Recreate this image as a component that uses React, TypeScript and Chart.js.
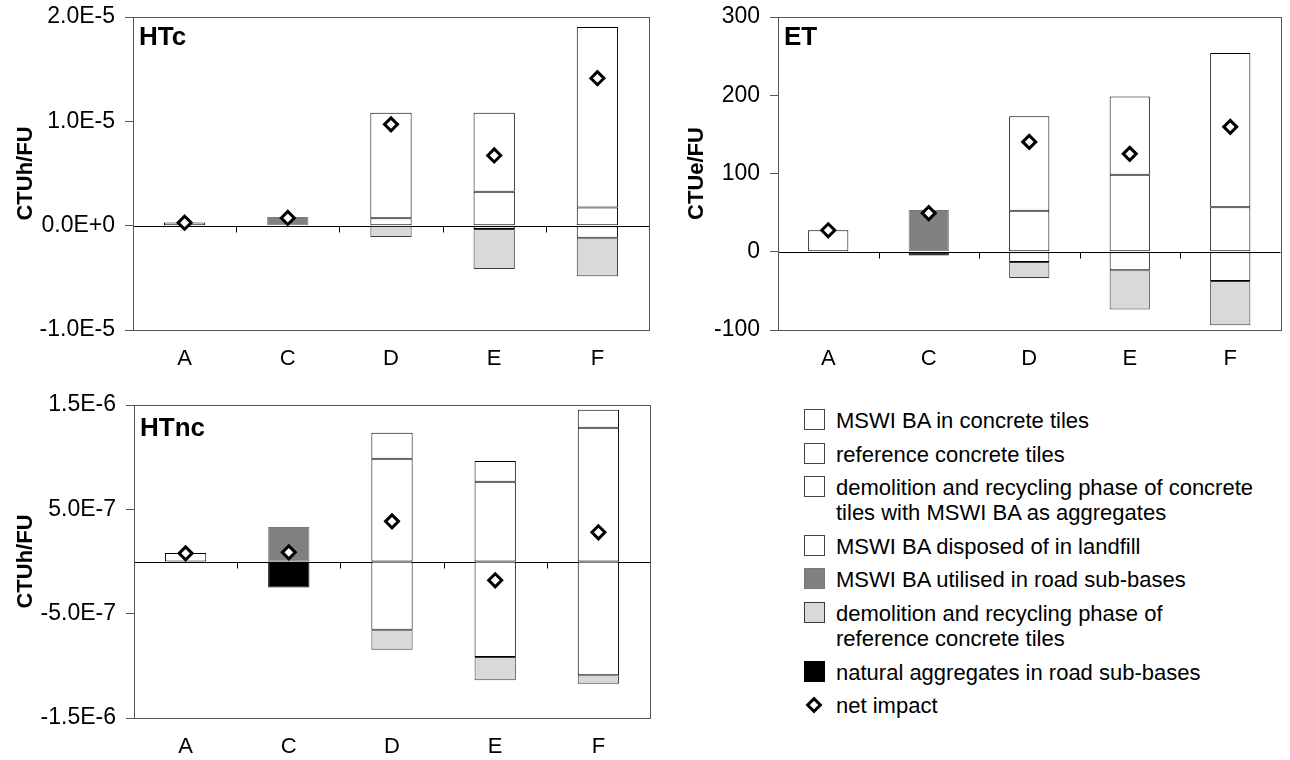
import React, { useEffect, useRef } from 'react';
import { Chart, registerables } from 'chart.js';

Chart.register(...registerables);

const FONT = '"Liberation Sans", Arial, Helvetica, sans-serif';
Chart.defaults.font.family = FONT;
Chart.defaults.color = '#000';

// ---------- categories & series names ----------
const categories = ['A', 'C', 'D', 'E', 'F'];

const seriesNames = [
  'MSWI BA in concrete tiles',
  'reference concrete tiles',
  'demolition and recycling phase of concrete\ntiles with MSWI BA as aggregates',
  'MSWI BA disposed of in landfill',
  'MSWI BA utilised in road sub-bases',
  'demolition and recycling phase of\nreference concrete tiles',
  'natural aggregates in road sub-bases',
];
const netName = 'net impact';

// ---------- HTc (CTUh/FU) ----------
const htcTilesMswi = [null, null, 0.70e-6, 3.25e-6, 1.73e-6];
const htcRefTiles = [null, null, -0.06e-6, -0.32e-6, -1.15e-6];
const htcDemolMswi = [null, null, 10.12e-6, 7.57e-6, 17.30e-6];
const htcLandfill = [0.30e-6, null, null, null, null];
const htcRoadMswi = [null, 0.84e-6, null, null, null];
const htcDemolRef = [null, null, -1.02e-6, -3.84e-6, -3.71e-6];
const htcNatAgg = [null, -0.13e-6, null, null, null];
const htcNet = [0.28e-6, 0.74e-6, 9.71e-6, 6.73e-6, 14.13e-6];
const htcTicks = [-1.0e-5, 0, 1.0e-5, 2.0e-5];
const htcTickLabels = ['-1.0E-5', '0.0E+0', '1.0E-5', '2.0E-5'];

// ---------- ET (CTUe/FU) ----------
const etTilesMswi = [null, null, 52.3, 98.3, 57];
const etRefTiles = [null, null, -13.2, -23.6, -37.4];
const etDemolMswi = [null, null, 120.9, 100, 197];
const etLandfill = [27.4, null, null, null, null];
const etRoadMswi = [null, 53.4, null, null, null];
const etDemolRef = [null, null, -20.2, -50.1, -56.6];
const etNatAgg = [null, -4.9, null, null, null];
const etNet = [27.4, 49.3, 140.4, 125.1, 159.6];
const etTicks = [-100, 0, 100, 200, 300];
const etTickLabels = ['-100', '0', '100', '200', '300'];

// ---------- HTnc (CTUh/FU) ----------
const htncTilesMswi = [null, null, 0.986e-6, 0.765e-6, 1.283e-6];
const htncRefTiles = [null, null, -0.653e-6, -0.915e-6, -1.091e-6];
const htncDemolMswi = [null, null, 0.249e-6, 0.198e-6, 0.172e-6];
const htncLandfill = [0.081e-6, null, null, null, null];
const htncRoadMswi = [null, 0.33e-6, null, null, null];
const htncDemolRef = [null, null, -0.192e-6, -0.224e-6, -0.08e-6];
const htncNatAgg = [null, -0.25e-6, null, null, null];
const htncNet = [0.078e-6, 0.088e-6, 0.385e-6, -0.18e-6, 0.28e-6];
const htncTicks = [-1.5e-6, -5.0e-7, 5.0e-7, 1.5e-6];
const htncTickLabels = ['-1.5E-6', '-5.0E-7', '5.0E-7', '1.5E-6'];

// ---------- styles ----------
const seriesStyles = [
  { bg: '#ffffff', border: '#000000' },
  { bg: '#ffffff', border: '#000000' },
  { bg: '#ffffff', border: '#000000' },
  { bg: '#ffffff', border: '#000000' },
  { bg: '#808080', border: '#787878' },
  { bg: '#d9d9d9', border: '#3a3a3a' },
  { bg: '#000000', border: '#000000' },
];

type PanelSpec = {
  label: string;
  yTitle: string;
  series: (number | null)[][];
  net: number[];
  ticks: number[];
  tickLabels: string[];
  left: number;
  top: number;
  width: number;
  height: number;
  padTop: number;
  padRight: number;
  yAxisWidth: number;
  xAxisHeight: number;
  titlePad: number;
  labelPad: number;
  panelLabelDy: number;
};

const panels: PanelSpec[] = [
  {
    label: 'HTc', yTitle: 'CTUh/FU',
    series: [htcTilesMswi, htcRefTiles, htcDemolMswi, htcLandfill, htcRoadMswi, htcDemolRef, htcNatAgg],
    net: htcNet, ticks: htcTicks, tickLabels: htcTickLabels,
    left: 0, top: 0, width: 660, height: 372, padTop: 17, padRight: 11,
    yAxisWidth: 133, xAxisHeight: 42, titlePad: 13, labelPad: 16, panelLabelDy: 28,
  },
  {
    label: 'ET', yTitle: 'CTUe/FU',
    series: [etTilesMswi, etRefTiles, etDemolMswi, etLandfill, etRoadMswi, etDemolRef, etNatAgg],
    net: etNet, ticks: etTicks, tickLabels: etTickLabels,
    left: 660, top: 0, width: 630, height: 372, padTop: 17, padRight: 3,
    yAxisWidth: 118, xAxisHeight: 42, titlePad: 24, labelPad: 16, panelLabelDy: 28,
  },
  {
    label: 'HTnc', yTitle: 'CTUh/FU',
    series: [htncTilesMswi, htncRefTiles, htncDemolMswi, htncLandfill, htncRoadMswi, htncDemolRef, htncNatAgg],
    net: htncNet, ticks: htncTicks, tickLabels: htncTickLabels,
    left: 0, top: 372, width: 660, height: 388, padTop: 33, padRight: 10,
    yAxisWidth: 134, xAxisHeight: 42, titlePad: 13, labelPad: 16, panelLabelDy: 31,
  },
];

const framePlugin = {
  id: 'frame',
  beforeDatasetsDraw(chart: any) {
    const { ctx, chartArea: a, scales } = chart;
    const y0 = Math.round(scales.y.getPixelForValue(0)) + 0.5;
    ctx.save();
    ctx.strokeStyle = '#000';
    ctx.lineWidth = 1;
    ctx.beginPath();
    ctx.moveTo(a.left, y0);
    ctx.lineTo(a.right, y0);
    const xs = scales.x;
    const n = chart.data.labels.length;
    for (let i = 1; i < n; i++) {
      const x = Math.round((xs.getPixelForValue(i - 1) + xs.getPixelForValue(i)) / 2) + 0.5;
      ctx.moveTo(x, y0);
      ctx.lineTo(x, y0 + 6);
    }
    ctx.stroke();
    ctx.restore();
  },
  afterDraw(chart: any, _args: any, opts: any) {
    const { ctx, chartArea: a } = chart;
    ctx.save();
    ctx.strokeStyle = '#555';
    ctx.lineWidth = 1;
    ctx.strokeRect(Math.round(a.left) + 0.5, Math.round(a.top) + 0.5, Math.round(a.right - a.left), Math.round(a.bottom - a.top));
    ctx.fillStyle = '#000';
    ctx.font = `bold 26px ${FONT}`;
    ctx.textBaseline = 'alphabetic';
    ctx.fillText(opts.label || '', a.left + 6, a.top + (opts.dy || 28));
    ctx.restore();
  },
};

function Panel({ spec }: { spec: PanelSpec }) {
  const ref = useRef<HTMLCanvasElement | null>(null);
  useEffect(() => {
    if (!ref.current) return;
    const datasets: any[] = spec.series.map((data, i) => ({
      type: 'bar',
      label: seriesNames[i],
      data,
      backgroundColor: seriesStyles[i].bg,
      borderColor: seriesStyles[i].border,
      borderWidth: 1,
      borderSkipped: false,
      stack: 'impact',
      order: 1,
      categoryPercentage: 1,
      barPercentage: 0.4,
    }));
    datasets.push({
      type: 'line',
      label: netName,
      data: spec.net,
      showLine: false,
      pointStyle: 'rectRot',
      pointRadius: 6.5,
      pointBorderWidth: 3,
      pointBackgroundColor: '#ffffff',
      pointBorderColor: '#000000',
      stack: 'net',
      order: 0,
    });
    const chart = new Chart(ref.current, {
      type: 'bar',
      data: { labels: categories, datasets },
      options: {
        animation: false,
        responsive: false,
        maintainAspectRatio: false,
        layout: { padding: { top: spec.padTop, right: spec.padRight, left: 0, bottom: 0 } },
        plugins: {
          legend: { display: false },
          tooltip: { enabled: false },
          frame: { label: spec.label, dy: spec.panelLabelDy },
        } as any,
        scales: {
          x: {
            stacked: true,
            offset: true,
            grid: { display: false, drawTicks: false },
            border: { display: false },
            ticks: { font: { size: 22 }, color: '#000', padding: spec.labelPad, maxRotation: 0 },
            afterFit: (s: any) => {
              s.height = spec.xAxisHeight;
              s.paddingLeft = 0;
              s.paddingRight = 0;
            },
          },
          y: {
            stacked: true,
            min: spec.ticks[0],
            max: spec.ticks[spec.ticks.length - 1],
            afterBuildTicks: (s: any) => { s.ticks = spec.ticks.map((v) => ({ value: v })); },
            afterFit: (s: any) => {
              s.width = spec.yAxisWidth;
              s.paddingTop = 0;
              s.paddingBottom = 0;
            },
            grid: { drawOnChartArea: false, drawTicks: true, tickLength: 8, color: '#555' },
            border: { display: false },
            ticks: {
              font: { size: 23 },
              color: '#000',
              padding: 10,
              callback: (_v: any, i: number) => spec.tickLabels[i],
            },
            title: {
              display: true,
              text: spec.yTitle,
              font: { size: 22, weight: 'bold' },
              color: '#000',
              padding: { top: spec.titlePad, bottom: 0 },
            },
          },
        },
      } as any,
      plugins: [framePlugin as any],
    });
    return () => chart.destroy();
  }, [spec]);
  return (
    <div style={{ position: 'absolute', left: spec.left, top: spec.top, width: spec.width, height: spec.height }}>
      <canvas ref={ref} width={spec.width} height={spec.height} style={{ display: 'block' }} />
    </div>
  );
}

function Legend() {
  const items = seriesNames.map((name, i) => ({ name, style: seriesStyles[i], diamond: false }));
  items.push({ name: netName, style: seriesStyles[0], diamond: true });
  return (
    <div style={{ position: 'absolute', left: 804, top: 408, fontFamily: FONT, fontSize: 22, lineHeight: '25px', color: '#000' }}>
      {items.map((it, i) => (
        <div key={i} style={{ display: 'flex', alignItems: 'flex-start', marginBottom: 8.6 }}>
          <div style={{ width: 21, height: 25, position: 'relative', flex: '0 0 21px', marginRight: 11 }}>
            {it.diamond ? (
              <div style={{ position: 'absolute', left: 4, top: 6, width: 6, height: 6, border: '3px solid #000', background: '#fff', transform: 'rotate(45deg)' }} />
            ) : (
              <div style={{ position: 'absolute', left: 0, top: 1, width: 21, height: 21, boxSizing: 'border-box', border: `1px solid ${it.style.bg === '#ffffff' ? '#444' : it.style.border}`, background: it.style.bg }} />
            )}
          </div>
          <div style={{ whiteSpace: 'pre' }}>{it.name}</div>
        </div>
      ))}
    </div>
  );
}

export default function App() {
  return (
    <div style={{ position: 'absolute', left: 0, top: 0, width: 1290, height: 760, background: '#fff', overflow: 'hidden' }}>
      {panels.map((p) => (
        <Panel key={p.label} spec={p} />
      ))}
      <Legend />
    </div>
  );
}
